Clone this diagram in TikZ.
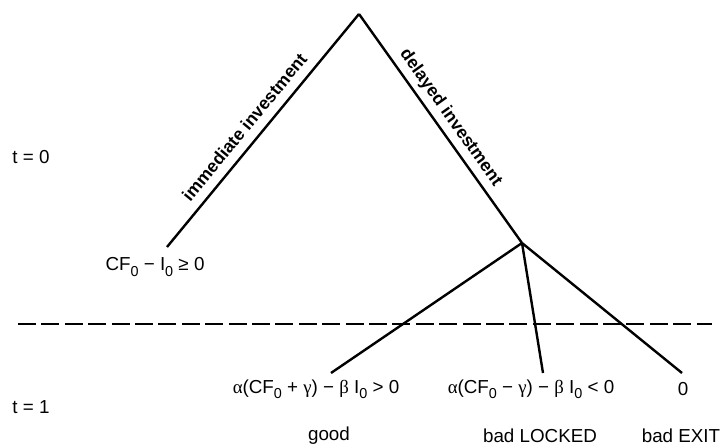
\documentclass[tikz,border=0pt]{standalone}
\usepackage{fontspec}
\setmainfont{Liberation Sans}
\newfontfamily\grk{Liberation Serif}
\newcommand{\gk}[1]{{\grk #1}}
\newcommand{\low}[1]{\raisebox{-0.55ex}{\fontsize{7.2}{8}\selectfont #1}}
\usetikzlibrary{positioning}
\tikzset{
    branch/.style={line width=1.2pt},
    period/.style={line width=1.4pt, dash pattern=on 9pt off 2.7pt},
    payoff/.style={font=\fontsize{9.4}{11}\selectfont, inner sep=1pt},
    choice/.style={font=\fontsize{8.8}{10}\selectfont\bfseries, sloped, above, inner sep=1pt},
}
\begin{document}
\begin{tikzpicture}[x=0.5pt, y=0.5pt]
    \useasboundingbox (0,0) rectangle (722,446);
    % tree points
    \coordinate (root) at (359,432);
    \coordinate (now) at (167,199);
    \coordinate (wait) at (522,203);
    \coordinate (good) at (331,73);
    \coordinate (locked) at (543,73);
    \coordinate (exit) at (682,73);
    \coordinate (dl) at (18,122);
    \coordinate (dr) at (712,122);
    % periods
    \draw[period] (dl) -- (dr);
    \node[payoff] (t0) at (31,289) {t = 0};
    \node[payoff] (t1) at (31,39) {t = 1};
    % first decision
    \draw[branch] (root) -- node[choice, pos=0.53, yshift=3.5pt] {immediate investment} (now);
    \draw[branch] (root) -- node[choice, pos=0.49, yshift=1.5pt] {delayed investment} (wait);
    % states at t = 1
    \draw[branch] (wait) -- (good);
    \draw[branch] (wait) -- (locked);
    \draw[branch] (wait) -- (exit);
    % payoffs
    \node[payoff] (pnow) at (155,179) {CF\low{0} − I\low{0} ≥ 0};
    \node[payoff] (pgood) at (316,57) {\gk{α}(CF\low{0} + \gk{γ}) − \gk{β} I\low{0} > 0};
    \node[payoff] (plocked) at (531,57) {\gk{α}(CF\low{0} − \gk{γ}) − \gk{β} I\low{0} < 0};
    \node[payoff] (pexit) at (683,57) {0};
    \node[payoff] (sgood) at (329,10) {good};
    \node[payoff] (slocked) at (540,10) {bad LOCKED};
    \node[payoff] (sexit) at (681,10) {bad EXIT};
\end{tikzpicture}
\end{document}
